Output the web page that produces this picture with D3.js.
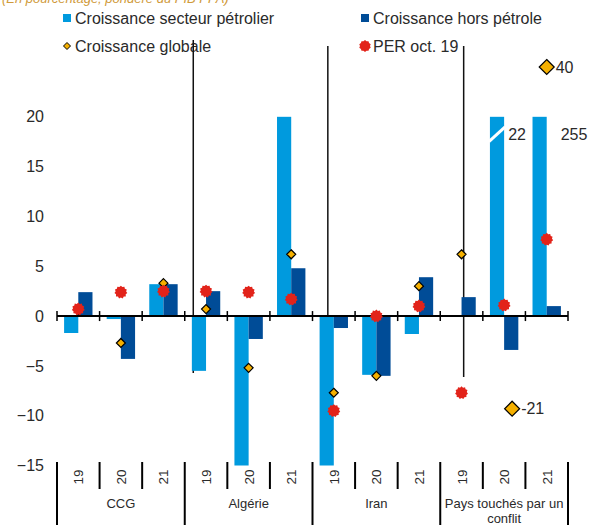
<!DOCTYPE html>
<html>
<head>
<meta charset="utf-8">
<script src="https://cdn.jsdelivr.net/npm/d3@7"></script>
<style>
  body { margin: 0; background: #fff; }
  svg { display: block; font-family: "Liberation Sans", Arial, sans-serif; }
</style>
</head>
<body>
<div id="chart"></div>
<script>
// groups and years (12 slots)
const groups = ['CCG', 'Algérie', 'Iran', 'Pays touchés par un conflit'];
const years = ['19', '20', '21'];

// series, one value per slot
const oilGrowth    = [-1.7, -0.3, 3.2, -5.5, -15, 20, -15, -5.9, -1.8, 0, 22, 255];
const nonOilGrowth = [2.4, -4.3, 3.2, 2.5, -2.3, 4.8, -1.2, -6.0, 3.9, 1.9, -3.4, 1.0];
const totalGrowth  = [0.6, -2.7, 3.3, 0.7, -5.2, 6.2, -7.7, -6.0, 3.0, 6.2, -21, 40];
const perOct19     = [0.7, 2.4, 2.5, 2.5, 2.4, 1.7, -9.5, 0.0, 1.0, -7.7, 1.1, 7.7];

const yTicks = [-15, -10, -5, 0, 5, 10, 15, 20];

const width = 593, height = 525;
const colOil = '#009ade', colNonOil = '#004c97', colDiamond = '#f5b000', colStar = '#e2231a';
const txt = '#2a2a2a';

const svg = d3.select('#chart').append('svg')
  .attr('width', width).attr('height', height);

const slots = d3.range(groups.length * years.length);
const x = d3.scaleBand().domain(slots).range([57, 568]).padding(0);
const sub = d3.scaleBand().domain(['oil', 'nonOil']).range([0, x.bandwidth()])
  .paddingInner(0).paddingOuter(0.5);
const y = d3.scaleLinear().domain([-15, 25]).range([465.5, 67]);
const yc = v => y(Math.max(-15, Math.min(20, v)));
const slotEdge = i => x.range()[0] + i * x.step();

// title, cut at the top edge as in the source
svg.append('text')
  .attr('x', 2).attr('y', 3)
  .attr('font-size', 13).attr('font-style', 'italic')
  .attr('fill', '#d09a3a')
  .text('(En pourcentage; pondéré du PIB PPA)');

// legend
const diamond = r => `M0,${-r}L${r},0L0,${r}L${-r},0Z`;
const star = (ro, ri, n) => {
  const pts = d3.range(n * 2).map(k => {
    const a = k * Math.PI / n, r = k % 2 ? ri : ro;
    return [Math.sin(a) * r, -Math.cos(a) * r];
  });
  return 'M' + pts.join('L') + 'Z';
};

const legend = svg.append('g').attr('font-size', 16).attr('fill', txt);
legend.append('rect').attr('x', 63).attr('y', 14).attr('width', 8).attr('height', 8).attr('fill', colOil);
legend.append('text').attr('x', 75).attr('y', 24).text('Croissance secteur pétrolier');
legend.append('rect').attr('x', 361).attr('y', 14).attr('width', 8).attr('height', 8).attr('fill', colNonOil);
legend.append('text').attr('x', 373).attr('y', 24).text('Croissance hors pétrole');
legend.append('path').attr('d', diamond(3.5)).attr('transform', 'translate(67,46)')
  .attr('fill', colDiamond).attr('stroke', '#000').attr('stroke-width', 1);
legend.append('text').attr('x', 75).attr('y', 52).text('Croissance globale');
legend.append('path').attr('d', star(6, 5, 10)).attr('transform', 'translate(365,46)').attr('fill', colStar);
legend.append('text').attr('x', 373).attr('y', 52).text('PER oct. 19');

// y axis labels
const yAxis = svg.append('g')
  .attr('transform', 'translate(44,0)')
  .call(d3.axisLeft(y).tickValues(yTicks).tickSize(0).tickPadding(0));
yAxis.select('.domain').remove();
yAxis.selectAll('text').attr('font-size', 16).attr('fill', txt)
  .attr('font-family', '"Liberation Sans", Arial, sans-serif');

// divider lines (in slot units)
const dividers = [
  { at: 3.2, top: 40, bottom: 373 },
  { at: 6.36, top: 46, bottom: 372 },
  { at: 9.55, top: 46, bottom: 377 }
];
svg.append('g').selectAll('line').data(dividers).join('line')
  .attr('x1', d => slotEdge(d.at)).attr('x2', d => slotEdge(d.at))
  .attr('y1', d => d.top).attr('y2', d => d.bottom)
  .attr('stroke', '#111').attr('stroke-width', 1.5);

// bars
const bars = svg.append('g');
bars.selectAll('.oil').data(oilGrowth).join('rect').attr('class', 'oil')
  .attr('x', (d, i) => x(i) + sub('oil'))
  .attr('width', sub.bandwidth())
  .attr('y', d => Math.min(yc(d), y(0)))
  .attr('height', d => Math.abs(yc(d) - y(0)))
  .attr('fill', colOil);
bars.selectAll('.nonOil').data(nonOilGrowth).join('rect').attr('class', 'nonOil')
  .attr('x', (d, i) => x(i) + sub('nonOil'))
  .attr('width', sub.bandwidth())
  .attr('y', d => Math.min(yc(d), y(0)))
  .attr('height', d => Math.abs(yc(d) - y(0)))
  .attr('fill', colNonOil);

// clipped bars: break mark + value label
const clipped = oilGrowth.map((v, i) => ({ v, i })).filter(d => d.v > 20);
clipped.forEach((d, k) => {
  const x0 = x(d.i) + sub('oil'), w = sub.bandwidth();
  if (k === 0) {
    svg.append('line')
      .attr('x1', x0 - 1).attr('y1', y(17.5))
      .attr('x2', x0 + w + 1).attr('y2', y(19))
      .attr('stroke', '#fff').attr('stroke-width', 3);
  }
  svg.append('text')
    .attr('x', k === 0 ? x0 + w + 4 : x0 + w + 14)
    .attr('y', y(18.2) + 5)
    .attr('font-size', 16).attr('fill', txt)
    .text(d.v);
});

// zero line with slot ticks
const zero = svg.append('g');
zero.append('line')
  .attr('x1', slotEdge(0)).attr('x2', slotEdge(slots.length))
  .attr('y1', y(0)).attr('y2', y(0))
  .attr('stroke', '#000').attr('stroke-width', 2);
zero.selectAll('.tick').data(d3.range(slots.length + 1)).join('line')
  .attr('x1', i => slotEdge(i)).attr('x2', i => slotEdge(i))
  .attr('y1', y(0) - 5).attr('y2', y(0) + 5)
  .attr('stroke', '#000').attr('stroke-width', 1.5);

// total growth diamonds
const shown = v => v > 25 ? 25 : (v < -15 ? -9.3 : v);
const offScale = v => v > 25 || v < -15;
svg.append('g').selectAll('path').data(totalGrowth).join('path')
  .attr('d', d => diamond(offScale(d) ? 7.5 : 4.5))
  .attr('transform', (d, i) => `translate(${x(i) + x.bandwidth() / 2 + (d < -15 ? 8 : 0)},${y(shown(d))})`)
  .attr('fill', colDiamond).attr('stroke', '#000').attr('stroke-width', 1.2);
totalGrowth.forEach((d, i) => {
  if (!offScale(d)) return;
  svg.append('text')
    .attr('x', x(i) + x.bandwidth() / 2 + (d < -15 ? 17 : 9))
    .attr('y', y(shown(d)) + 5.5)
    .attr('font-size', 16).attr('fill', txt)
    .text(d);
});

// PER stars
svg.append('g').selectAll('path').data(perOct19).join('path')
  .attr('d', star(6.5, 5.3, 11))
  .attr('transform', (d, i) => `translate(${x(i) + x.bandwidth() / 2},${y(d)})`)
  .attr('fill', colStar);

// category axis below
const cat = svg.append('g');
const catTop = 462;
cat.selectAll('line').data(d3.range(slots.length + 1)).join('line')
  .attr('x1', i => slotEdge(i)).attr('x2', i => slotEdge(i))
  .attr('y1', catTop).attr('y2', i => i % years.length === 0 ? height : 489)
  .attr('stroke', '#000').attr('stroke-width', 2);
cat.selectAll('.yr').data(slots).join('text').attr('class', 'yr')
  .attr('transform', i => `translate(${x(i) + x.bandwidth() / 2 + 5},477) rotate(-90)`)
  .attr('text-anchor', 'middle')
  .attr('font-size', 13.5).attr('fill', txt)
  .text(i => years[i % years.length]);
const gLabel = cat.selectAll('.grp').data(groups).join('text').attr('class', 'grp')
  .attr('x', (g, k) => slotEdge(k * years.length + 1.5))
  .attr('y', 508)
  .attr('text-anchor', 'middle')
  .attr('font-size', 13).attr('fill', txt);
gLabel.each(function (g) {
  const parts = g === 'Pays touchés par un conflit' ? ['Pays touchés par un', 'conflit'] : [g];
  d3.select(this).selectAll('tspan').data(parts).join('tspan')
    .attr('x', d3.select(this).attr('x'))
    .attr('dy', (p, j) => j ? 15 : 0)
    .text(p => p);
});
</script>
</body>
</html>
